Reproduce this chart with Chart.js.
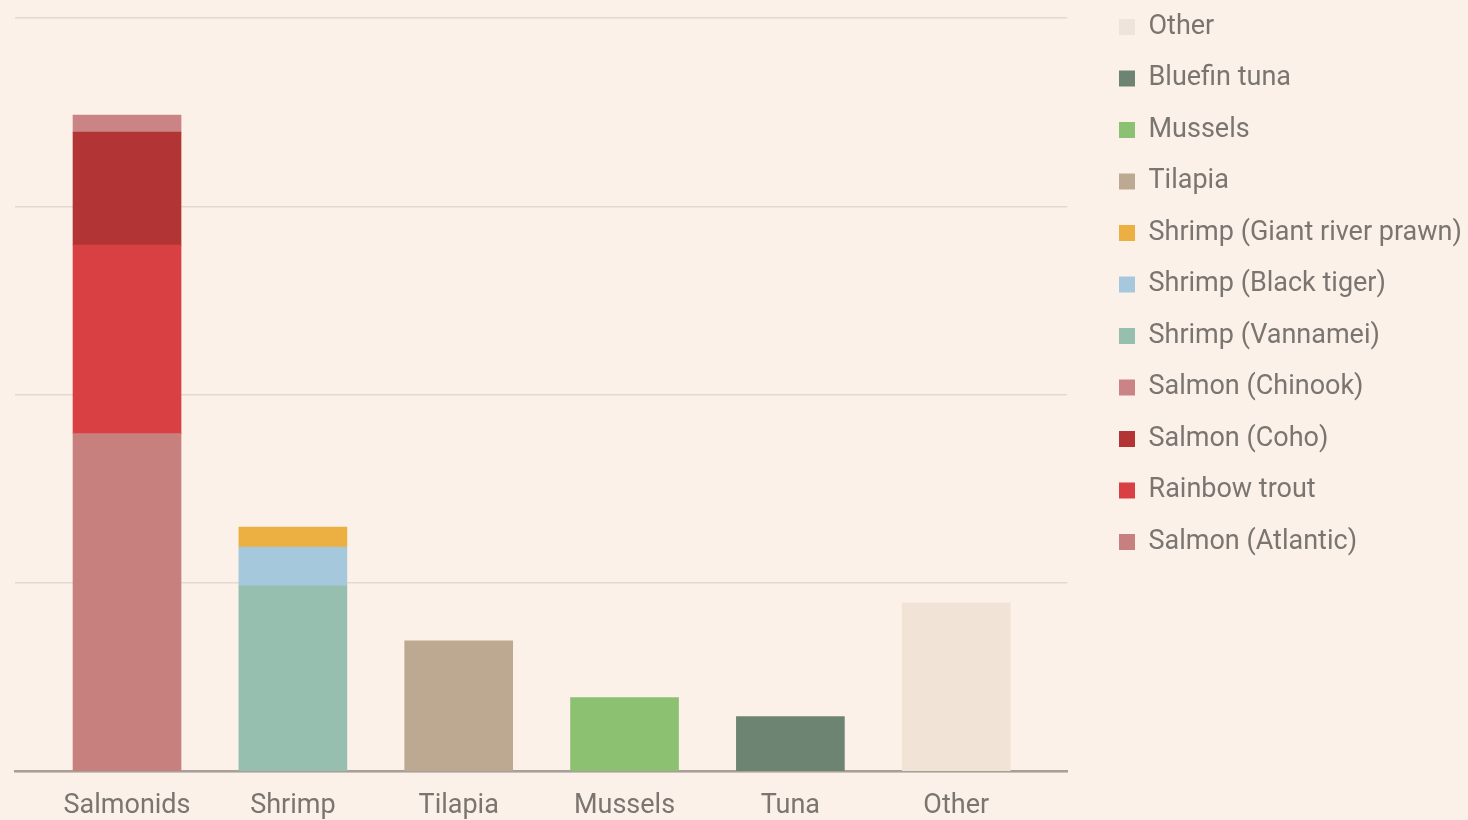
<!DOCTYPE html>
<html>
<head>
<meta charset="utf-8">
<script src="https://cdn.jsdelivr.net/npm/chart.js@4.4.1/dist/chart.umd.min.js"></script>
<style>
  html, body { margin: 0; padding: 0; background: #FCF1E8; }
  #wrap { width: 1468px; height: 820px; }
</style>
</head>
<body>
<div id="wrap"><canvas id="c" width="1468" height="820"></canvas></div>
<script>
const categories = ["Salmonids", "Shrimp", "Tilapia", "Mussels", "Tuna", "Other"];

const seriesNames = [
  "Salmon (Atlantic)", "Rainbow trout", "Salmon (Coho)", "Salmon (Chinook)",
  "Shrimp (Vannamei)", "Shrimp (Black tiger)", "Shrimp (Giant river prawn)",
  "Tilapia", "Mussels", "Bluefin tuna", "Other"
];

// values per category: [Salmonids, Shrimp, Tilapia, Mussels, Tuna, Other]
const salmonAtlantic   = [8.97, null, null, null, null, null];
const rainbowTrout     = [5.0, null, null, null, null, null];
const salmonCoho       = [3.0, null, null, null, null, null];
const salmonChinook    = [0.45, null, null, null, null, null];
const shrimpVannamei   = [null, 4.93, null, null, null, null];
const shrimpBlackTiger = [null, 1.03, null, null, null, null];
const shrimpGiantRiver = [null, 0.53, null, null, null, null];
const tilapia          = [null, null, 3.47, null, null, null];
const mussels          = [null, null, null, 1.96, null, null];
const bluefinTuna      = [null, null, null, null, 1.46, null];
const other            = [null, null, null, null, null, 4.48];

const seriesValues = [salmonAtlantic, rainbowTrout, salmonCoho, salmonChinook,
  shrimpVannamei, shrimpBlackTiger, shrimpGiantRiver, tilapia, mussels, bluefinTuna, other];

const colors = ["#C8807E", "#D94043", "#B23434", "#CB8486", "#96BFAF", "#A6C8DC",
  "#EBB041", "#BDA991", "#8CC172", "#6E8472", "#F1E3D5"];
const legendColors = ["#C8807E", "#D94043", "#B23434", "#CB8486", "#96BFAF", "#A6C8DC",
  "#EBB041", "#BDA991", "#8CC172", "#6E8472", "#EEE4DC"];

const yTicks = [0, 5, 10, 15, 20];

const datasets = seriesNames.map((name, i) => ({
  label: name,
  data: seriesValues[i].map((v, j) => ({ x: j, y: v })),
  backgroundColor: colors[i],
  borderWidth: 0,
  barThickness: 108
}));

const FONT = "Roboto, 'Noto Sans', sans-serif";
const TEXT = "#7A7571";
const LEGEND_PAD = 24.5;

const legendPlace = {
  id: "legendPlace",
  afterLayout(chart) {
    const lg = chart.legend;
    if (!lg) return;
    const dx = 1119 - (lg.left + LEGEND_PAD);
    lg.left += dx; lg.right += dx;
    const dy = -29;
    lg.top += dy; lg.bottom += dy;
  }
};

new Chart(document.getElementById("c"), {
  type: "bar",
  data: { datasets },
  plugins: [legendPlace],
  options: {
    responsive: false,
    animation: false,
    devicePixelRatio: 1,
    layout: { padding: { left: 15, top: 18, right: 23.5, bottom: -21.5 } },
    plugins: {
      legend: {
        position: "right",
        align: "start",
        reverse: true,
        maxWidth: 420,
        labels: {
          boxWidth: 16,
          boxHeight: 16,
          padding: LEGEND_PAD,
          color: TEXT,
          font: { family: FONT, size: 27 },
          generateLabels(chart) {
            return chart.data.datasets.map((d, i) => ({
              text: d.label,
              fillStyle: legendColors[i],
              strokeStyle: legendColors[i],
              lineWidth: 0,
              datasetIndex: i,
              fontColor: TEXT
            }));
          }
        }
      },
      tooltip: { enabled: false }
    },
    scales: {
      x: {
        type: "linear",
        stacked: true,
        offset: false,
        min: -0.6755,
        max: 5.669,
        grid: { display: false, drawTicks: false },
        border: { display: true, color: "#A89F99", width: 2.5 },
        ticks: {
          stepSize: 1,
          includeBounds: false,
          autoSkip: false,
          maxRotation: 0,
          padding: 21.5,
          color: TEXT,
          font: { family: FONT, size: 27, lineHeight: 1 },
          callback: (v) => Number.isInteger(v) && categories[v] !== undefined ? categories[v] : ""
        }
      },
      y: {
        stacked: true,
        min: 0,
        max: 20,
        afterBuildTicks: (s) => { s.ticks = yTicks.map(v => ({ value: v })); },
        grid: { color: "#E2DAD2", lineWidth: 1.5, drawTicks: false },
        border: { display: false },
        ticks: { display: false }
      }
    }
  }
});
</script>
</body>
</html>
